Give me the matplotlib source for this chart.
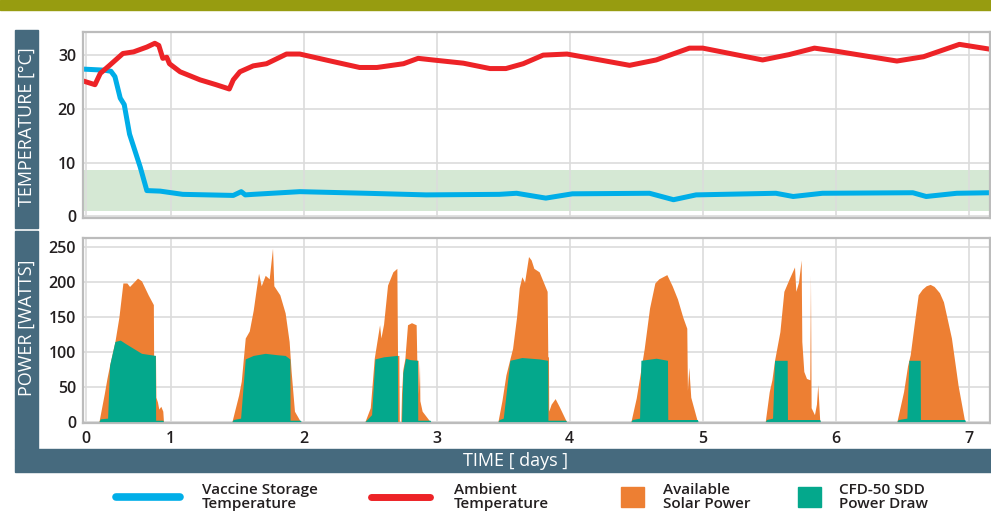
import numpy as np
import matplotlib.pyplot as plt
from matplotlib.lines import Line2D
from matplotlib.patches import Rectangle

W, H = 991, 528

# ---- temperature data (x in days, value in degC) ----
AMBIENT_T = [0.34, 0.43, 0.47, 0.54, 0.64, 0.72, 0.82, 0.88, 0.91, 0.94, 0.97, 0.99,
             1.07, 1.22, 1.34, 1.44, 1.47, 1.52, 1.62, 1.72, 1.87, 1.97, 2.22, 2.42,
             2.55, 2.75, 2.86, 2.97, 3.20, 3.40, 3.52, 3.65, 3.80, 3.98, 4.45, 4.65,
             4.90, 5.00, 5.45, 5.65, 5.84, 6.01, 6.46, 6.66, 6.93, 7.16]
AMBIENT_C = [25.2, 24.5, 26.6, 28.1, 30.3, 30.6, 31.5, 32.2, 31.8, 29.4, 29.6, 28.4,
             26.9, 25.4, 24.5, 23.7, 25.4, 26.9, 28.0, 28.4, 30.2, 30.2, 28.8, 27.7,
             27.7, 28.4, 29.4, 29.1, 28.5, 27.5, 27.5, 28.4, 30.0, 30.2, 28.1, 29.1,
             31.3, 31.3, 29.1, 30.1, 31.3, 30.7, 28.9, 29.7, 32.0, 31.1]

VACCINE_T = [0.34, 0.50, 0.55, 0.58, 0.62, 0.65, 0.69, 0.77, 0.82, 0.92, 1.09, 1.47, 1.53,
             1.56, 1.62, 1.97, 2.47, 2.92, 3.47, 3.60, 3.82, 4.02, 4.60, 4.78, 4.95,
             5.55, 5.68, 5.90, 6.58, 6.68, 6.91, 7.16]
VACCINE_C = [27.4, 27.2, 27.0, 26.0, 22.0, 20.8, 15.3, 9.2, 4.8, 4.7, 4.1, 3.9, 4.6,
             4.0, 4.1, 4.6, 4.3, 4.0, 4.1, 4.3, 3.4, 4.2, 4.3, 3.1, 4.0,
             4.3, 3.7, 4.3, 4.4, 3.7, 4.3, 4.4]

SAFE_RANGE = (1.0, 8.6)

# ---- power data (x in days, value in watts) ----
SOLAR_T = [0.46, 0.50, 0.52, 0.54, 0.58, 0.61, 0.64, 0.67, 0.69, 0.72, 0.75, 0.78, 0.83,
           0.869, 0.871, 0.885, 0.888, 0.90, 0.91, 0.925, 0.94, 0.945,
           1.46, 1.51, 1.53, 1.56, 1.59, 1.62, 1.64, 1.66, 1.68, 1.71, 1.74, 1.765,
           1.775, 1.82, 1.86, 1.89, 1.905, 1.93, 1.975,
           2.46, 2.50, 2.53, 2.57, 2.58, 2.60, 2.63, 2.67, 2.70, 2.705, 2.715, 2.718,
           2.73, 2.735, 2.745, 2.76, 2.78, 2.81, 2.845, 2.85, 2.86, 2.862, 2.87,
           2.873, 2.89, 2.95,
           3.46, 3.49, 3.52, 3.55, 3.57, 3.60, 3.62, 3.64, 3.66, 3.69, 3.71, 3.73,
           3.77, 3.83, 3.835, 3.84, 3.842, 3.86, 3.89, 3.92, 3.975,
           4.46, 4.50, 4.54, 4.56, 4.60, 4.64, 4.67, 4.70, 4.73, 4.77, 4.81, 4.85,
           4.88, 4.885, 4.895, 4.91, 4.96,
           5.47, 5.50, 5.52, 5.54, 5.58, 5.61, 5.65, 5.69, 5.70, 5.72, 5.74, 5.745,
           5.76, 5.78, 5.805, 5.81, 5.815, 5.84, 5.855, 5.865, 5.88,
           6.46, 6.51, 6.54, 6.56, 6.59, 6.62, 6.65, 6.68, 6.71, 6.74, 6.78, 6.81,
           6.87, 6.92, 6.97]
SOLAR_W = [0, 40, 62, 81, 115, 150, 199, 199, 194, 200, 206, 202, 182,
           168, 95, 95, 35, 28, 18, 22, 15, 0,
           0, 38, 58, 120, 130, 160, 187, 213, 195, 210, 205, 249,
           195, 182, 156, 115, 72, 15, 0,
           0, 20, 91, 139, 120, 140, 196, 215, 220, 95, 95, 0,
           0, 40, 75, 90, 139, 142, 139, 88, 88, 40, 85,
           30, 15, 0,
           0, 30, 67, 90, 105, 150, 192, 208, 200, 237, 232, 220,
           215, 187, 93, 93, 15, 25, 33, 22, 0,
           0, 34, 81, 105, 163, 199, 205, 208, 211, 195, 176, 150,
           134, 45, 78, 35, 0,
           0, 43, 60, 88, 129, 187, 205, 222, 187, 200, 232, 115,
           72, 62, 60, 210, 20, 10, 25, 53, 0,
           0, 43, 80, 96, 140, 182, 190, 195, 197, 194, 185, 172,
           120, 52, 0]

DRAW_T = [0.46, 0.47, 0.525, 0.54, 0.58, 0.62, 0.66, 0.72, 0.78, 0.884, 0.886, 0.94, 0.945,
          1.46, 1.47, 1.525, 1.56, 1.62, 1.71, 1.80, 1.86, 1.895, 1.897, 1.975, 1.98,
          2.46, 2.48, 2.51, 2.535, 2.60, 2.70, 2.704, 2.706, 2.735, 2.745, 2.765,
          2.80, 2.855, 2.857, 2.95, 2.955,
          3.46, 3.47, 3.50, 3.55, 3.64, 3.77, 3.834, 3.836, 3.97, 3.975,
          4.46, 4.47, 4.525, 4.535, 4.65, 4.735, 4.737, 4.96, 4.965,
          5.47, 5.48, 5.525, 5.54, 5.635, 5.637, 5.88, 5.885,
          6.46, 6.47, 6.535, 6.55, 6.635, 6.637, 6.97, 6.975]
DRAW_W = [0, 4, 5, 81, 115, 117, 112, 105, 98, 95, 2, 2, 0,
          0, 3, 5, 90, 95, 98, 96, 95, 90, 2, 2, 0,
          0, 4, 10, 90, 93, 95, 95, 0, 0, 70, 91,
          89, 88, 2, 2, 0,
          0, 3, 5, 88, 92, 90, 88, 2, 2, 0,
          0, 3, 5, 88, 91, 88, 3, 3, 0,
          0, 3, 5, 88, 88, 3, 3, 0,
          0, 3, 5, 88, 88, 3, 3, 0]

XTICK_POS = [0.36, 1, 2, 3, 4, 5, 6, 7]
XTICK_LABELS = ["0", "1", "2", "3", "4", "5", "6", "7"]

# ---- colours ----
OLIVE = "#979c10"
SLATE = "#466a7e"
RED = "#ed2327"
BLUE = "#00aee8"
ORANGE = "#ed7f33"
TEAL = "#04a88c"
BAND = "#d5e8d4"
GRID = "#dcdcdc"
SPINE = "#bcbcbc"
INK = "#231f20"

plt.rcParams["font.family"] = ["Open Sans", "DejaVu Sans"]


def fx(px):
    return px / W


def fy(py):
    return 1 - py / H


def style_axes(ax):
    ax.set_axisbelow(True)
    ax.grid(True, color=GRID, linewidth=1.2)
    for s in ax.spines.values():
        s.set_color(SPINE)
        s.set_linewidth(1.6)
    ax.tick_params(length=0, labelsize=11.5, labelcolor=INK)
    for lab in ax.get_xticklabels() + ax.get_yticklabels():
        lab.set_fontweight("semibold")
    ax.set_xlim(0.34, 7.16)
    ax.set_xticks(XTICK_POS)


fig = plt.figure(figsize=(W / 100, H / 100), dpi=100)

# decorative frame
fig.patches.append(Rectangle((0, fy(9.5)), 1, 9.5 / H, transform=fig.transFigure,
                             color=OLIVE, zorder=0))
fig.patches.append(Rectangle((fx(15), fy(228)), fx(23), 198 / H, transform=fig.transFigure,
                             color=SLATE, zorder=0))
fig.patches.append(Rectangle((fx(15), fy(449)), fx(23), 218 / H, transform=fig.transFigure,
                             color=SLATE, zorder=0))
fig.patches.append(Rectangle((fx(15), fy(472)), fx(976), 23 / H, transform=fig.transFigure,
                             color=SLATE, zorder=0))
fig.text(fx(26.5), fy(127), "TEMPERATURE [°C]", rotation=90, color="white",
         ha="center", va="center", fontsize=13)
fig.text(fx(26.5), fy(328), "POWER [WATTS]", rotation=90, color="white",
         ha="center", va="center", fontsize=13)
fig.text(fx(516), fy(461), "TIME [ days ]", color="white",
         ha="center", va="center", fontsize=13)

# temperature panel
ax1 = fig.add_axes([fx(83), fy(218), fx(907), (218 - 32) / H])
ax1.set_ylim(-0.3, 34.3)
ax1.set_yticks([0, 10, 20, 30])
style_axes(ax1)
ax1.axhspan(SAFE_RANGE[0], SAFE_RANGE[1], color=BAND, zorder=0.2, lw=0)
ax1.plot(VACCINE_T, VACCINE_C, color=BLUE, lw=3.6, solid_capstyle="butt")
ax1.plot(AMBIENT_T, AMBIENT_C, color=RED, lw=3.6, solid_capstyle="butt")
ax1.set_xticklabels([])
ax1.tick_params(axis="y", pad=5)

# power panel
ax2 = fig.add_axes([fx(83), fy(423), fx(907), (423 - 237.7) / H])
ax2.set_ylim(-2, 264)
ax2.set_yticks([0, 50, 100, 150, 200, 250])
style_axes(ax2)
ax2.fill_between(SOLAR_T, 0, SOLAR_W, color=ORANGE, lw=0, zorder=2)
ax2.fill_between(DRAW_T, 0, DRAW_W, color=TEAL, lw=0, zorder=3)
ax2.set_xticklabels(XTICK_LABELS, fontweight="semibold")
ax2.tick_params(axis="y", pad=5)
ax2.tick_params(axis="x", pad=6)

# legend drawn by hand
fig.add_artist(Line2D([fx(116), fx(180)], [fy(497), fy(497)], color=BLUE, lw=5.5,
                      solid_capstyle="round", transform=fig.transFigure))
fig.add_artist(Line2D([fx(371), fx(430)], [fy(497), fy(497)], color=RED, lw=5.0,
                      solid_capstyle="round", transform=fig.transFigure))
fig.patches.append(Rectangle((fx(621), fy(507)), fx(23), 20 / H, transform=fig.transFigure,
                             color=ORANGE))
fig.patches.append(Rectangle((fx(798), fy(507)), fx(23), 20 / H, transform=fig.transFigure,
                             color=TEAL))
legend_texts = [(202, "Vaccine Storage\nTemperature"), (454, "Ambient\nTemperature"),
                (663, "Available\nSolar Power"), (839, "CFD-50 SDD\nPower Draw")]
for px, txt in legend_texts:
    fig.text(fx(px), fy(497), txt, ha="left", va="center", fontsize=11,
             fontweight="semibold", color=INK, linespacing=0.92)

fig.savefig("out.png", dpi=100)
